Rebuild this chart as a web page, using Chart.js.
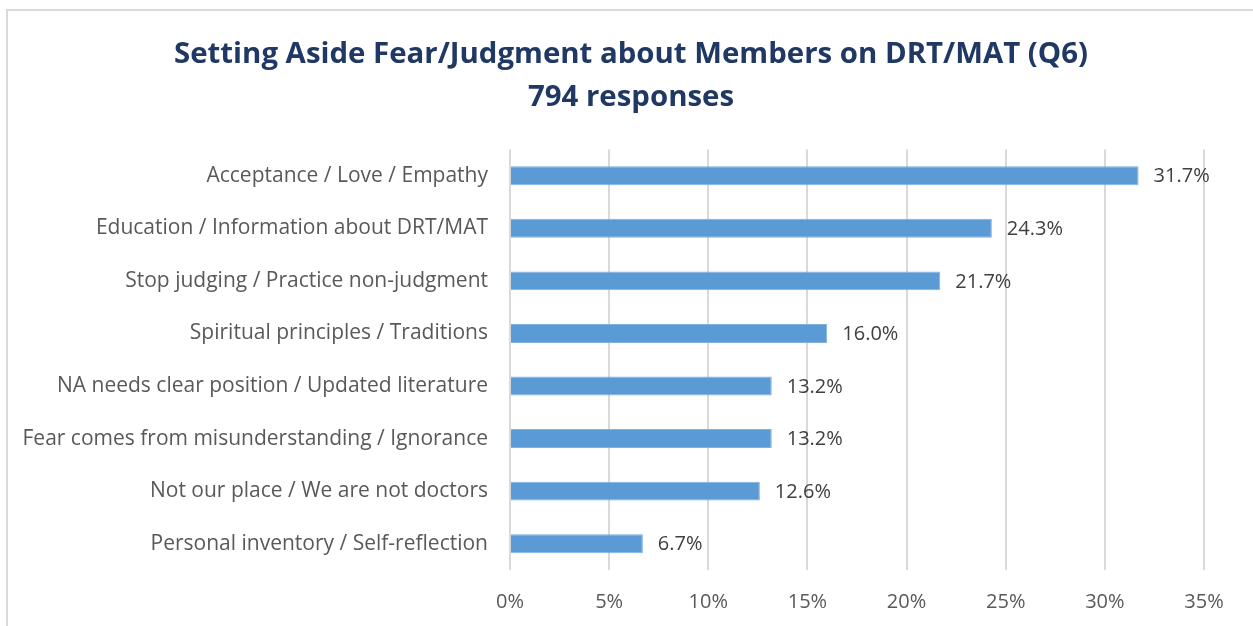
<!DOCTYPE html>
<html>
<head>
<meta charset="utf-8">
<script src="https://cdn.jsdelivr.net/npm/chart.js@4.4.1/dist/chart.umd.min.js"></script>
<style>
  html, body { margin: 0; padding: 0; background: #fff; }
  #wrap { position: relative; width: 1253px; height: 626px; overflow: hidden; }
  #frame { position: absolute; left: 6px; top: 9px; width: 1260px; height: 640px;
           border-left: 2px solid #d9d9d9; border-top: 2px solid #d9d9d9; box-sizing: border-box; }
  canvas { position: absolute; left: 0; top: 0; }
</style>
</head>
<body>
<div id="wrap">
  <div id="frame"></div>
  <canvas id="grafik" width="1253" height="626"></canvas>
</div>
<script>
// data
var categories = [
    'Acceptance / Love / Empathy',
    'Education / Information about DRT/MAT',
    'Stop judging / Practice non-judgment',
    'Spiritual principles / Traditions',
    'NA needs clear position / Updated literature',
    'Fear comes from misunderstanding / Ignorance',
    'Not our place / We are not doctors',
    'Personal inventory / Self-reflection'
];
var percentValues = [31.7, 24.3, 21.7, 16.0, 13.2, 13.2, 12.6, 6.7];
var xTicks = [0, 5, 10, 15, 20, 25, 30, 35];
var titleLines = ['Setting Aside Fear/Judgment about Members on DRT/MAT (Q6)', '794 responses'];

// label angka di ujung bar
var valueLabels = {
    id: 'valueLabels',
    afterDatasetsDraw: function(chart) {
        var ctx = chart.ctx;
        var meta = chart.getDatasetMeta(0);
        ctx.save();
        ctx.font = '20px "Open Sans"';
        ctx.fillStyle = '#404040';
        ctx.textAlign = 'left';
        ctx.textBaseline = 'middle';
        meta.data.forEach(function(bar, i) {
            ctx.fillText(percentValues[i].toFixed(1) + '%', bar.x + 15, bar.y + 1);
        });
        ctx.restore();
    }
};

var ctx = document.getElementById('grafik').getContext('2d');
var myChart = new Chart(ctx, {
    type: 'bar',
    data: {
        labels: categories,
        datasets: [{
            data: percentValues,
            backgroundColor: '#5B9BD5',
            borderColor: '#7fb0de',
            borderWidth: 1,
            categoryPercentage: 1,
            barPercentage: 0.36
        }]
    },
    options: {
        indexAxis: 'y',
        responsive: false,
        animation: false,
        layout: { padding: { left: 9, right: 0, top: 0, bottom: 0 } },
        plugins: {
            legend: { display: false },
            tooltip: { enabled: false },
            title: {
                display: true,
                text: titleLines,
                color: '#203864',
                font: { family: 'Open Sans', size: 29.4, weight: 'bold', lineHeight: 1.47 },
                padding: { top: 33, bottom: 30 }
            }
        },
        scales: {
            x: {
                min: 0,
                max: 35,
                afterBuildTicks: function(scale) {
                    scale.ticks = xTicks.map(function(v) { return { value: v }; });
                },
                afterFit: function(scale) { scale.height = 56; },
                ticks: {
                    callback: function(v) { return v + '%'; },
                    color: '#595959',
                    font: { family: 'Open Sans', size: 20 },
                    padding: 20,
                    maxRotation: 0
                },
                grid: { color: '#d9d9d9', lineWidth: 2, drawTicks: false },
                border: { display: false }
            },
            y: {
                afterFit: function(scale) { scale.width = 510 - 9; },
                ticks: {
                    color: '#595959',
                    font: { family: 'Open Sans', size: 21 },
                    padding: 22
                },
                grid: { display: false, drawTicks: false },
                border: { display: false }
            },
            // sumbu kosong di kanan, cuma buat ruang kosong
            kanan: {
                type: 'linear',
                position: 'right',
                display: true,
                afterFit: function(scale) { scale.width = 1253 - 1204; },
                ticks: { display: false },
                grid: { display: false, drawTicks: false },
                border: { display: false }
            }
        }
    },
    plugins: [valueLabels]
});
</script>
</body>
</html>
